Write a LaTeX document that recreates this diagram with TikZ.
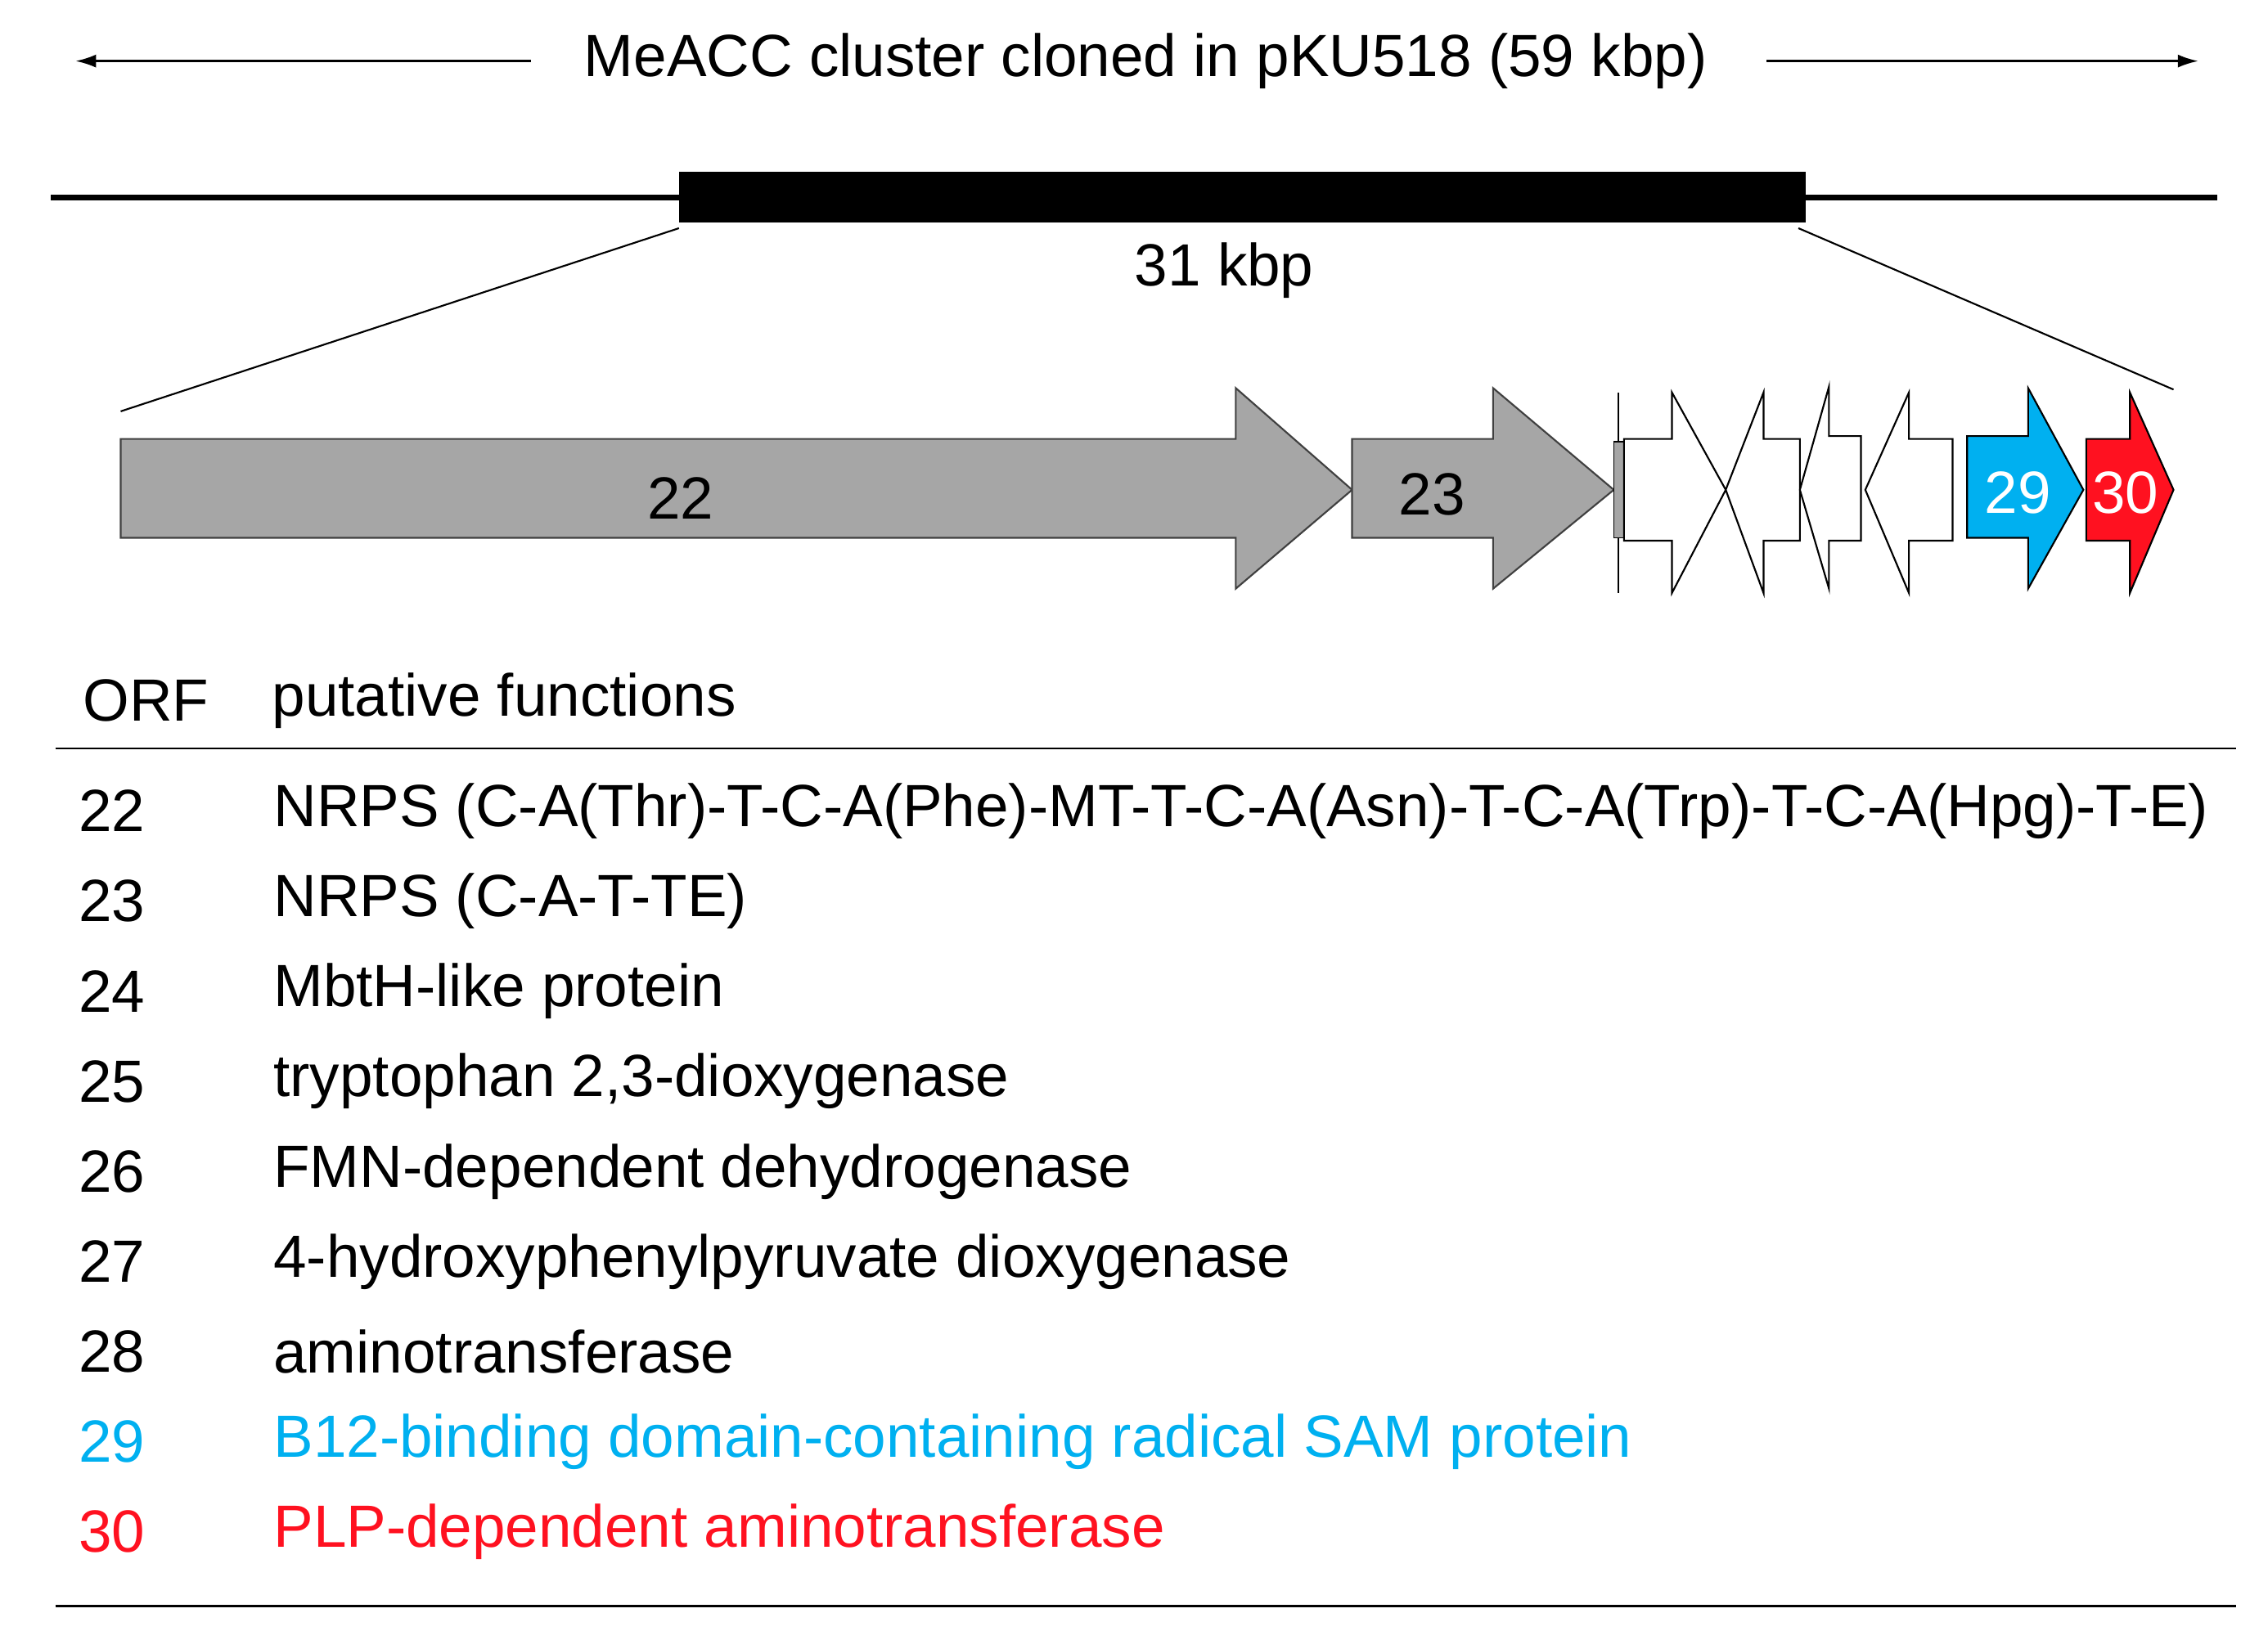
\documentclass[tikz,border=0pt]{standalone}
\usepackage{fontspec}
\setmainfont{Liberation Sans}
\usetikzlibrary{arrows.meta}
\definecolor{cy}{HTML}{00B0F0}
\definecolor{rd}{HTML}{FF1120}
\definecolor{gr}{HTML}{A6A6A6}
\begin{document}
\begin{tikzpicture}[x=1pt,y=-1pt,
  txt/.style={font=\fontsize{41}{48}\selectfont,inner sep=0pt},
  lbl/.style={txt,anchor=west},
  gene/.style={line width=1.2pt,line join=miter}]
\useasboundingbox (0,0) rectangle (1560,1128);
% top
\node[txt] (title) at (788,42) {MeACC cluster cloned in pKU518 (59 kbp)};
\coordinate (l1) at (365,42); \coordinate (l2) at (52,42);
\coordinate (r1) at (1215,42); \coordinate (r2) at (1512,42);
\draw[line width=1.3pt,-{Latex[length=14pt,width=9pt]}] (l1) -- (l2);
\draw[line width=1.3pt,-{Latex[length=14pt,width=9pt]}] (r1) -- (r2);
\coordinate (a) at (35,136); \coordinate (b) at (1525,136);
\draw[line width=4pt] (a) -- (b);
\fill (467,118) rectangle (1242,153);
\node[txt] (kb) at (842,186) {31 kbp};
\coordinate (z1) at (467,157); \coordinate (z2) at (83,283);
\coordinate (z3) at (1237,157); \coordinate (z4) at (1495,268);
\draw[line width=1.2pt] (z1) -- (z2);
\draw[line width=1.2pt] (z3) -- (z4);
% genes
\draw[gene,fill=gr,draw=black!75] (83,302) -- (850,302) -- (850,267) -- (930,337) -- (850,405) -- (850,370) -- (83,370) -- cycle;
\node[txt] (g22) at (468,343) {22};
\draw[gene,fill=gr,draw=black!75] (930,302) -- (1027,302) -- (1027,267) -- (1110,337) -- (1027,405) -- (1027,370) -- (930,370) -- cycle;
\node[txt] (g23) at (985,340) {23};
\draw[line width=1.2pt] (1113,270) -- (1113,408);
\draw[line width=1pt,fill=gr] (1110,304) rectangle (1117,370);
\draw[gene,fill=white] (1117,302) -- (1150,302) -- (1150,270) -- (1187,337) -- (1150,408) -- (1150,372) -- (1117,372) -- cycle;
\draw[gene,fill=white] (1238,302) -- (1213,302) -- (1213,270) -- (1187,337) -- (1213,408) -- (1213,372) -- (1238,372) -- cycle;
\draw[gene,fill=white] (1280,300) -- (1258,300) -- (1258,266) -- (1238,337) -- (1258,405) -- (1258,372) -- (1280,372) -- cycle;
\draw[gene,fill=white] (1343,302) -- (1313,302) -- (1313,270) -- (1283,337) -- (1313,408) -- (1313,372) -- (1343,372) -- cycle;
\draw[gene,fill=cy] (1353,300) -- (1395,300) -- (1395,267) -- (1433,337) -- (1395,405) -- (1395,370) -- (1353,370) -- cycle;
\node[txt,text=white] (g29) at (1388,339) {29};
\draw[gene,fill=rd] (1435,302) -- (1465,302) -- (1465,270) -- (1495,337) -- (1465,408) -- (1465,372) -- (1435,372) -- cycle;
\node[txt,text=white] (g30) at (1462,339) {30};
% table
\node[lbl] (h1) at (57,482) {ORF};
\node[lbl] (h2) at (187,482) {putative functions};
\coordinate (t1) at (38,515); \coordinate (t2) at (1538,515);
\coordinate (t3) at (38,1105); \coordinate (t4) at (1538,1105);
\draw[line width=1.5pt] (t1) -- (t2);
\draw[line width=1.5pt] (t3) -- (t4);
\foreach \n/\t/\c [count=\i from 0] in {
 22/{NRPS (C-A(Thr)-T-C-A(Phe)-MT-T-C-A(Asn)-T-C-A(Trp)-T-C-A(Hpg)-T-E)}/black,
 23/{NRPS (C-A-T-TE)}/black,
 24/{MbtH-like protein}/black,
 25/{tryptophan 2,3-dioxygenase}/black,
 26/{FMN-dependent dehydrogenase}/black,
 27/{4-hydroxyphenylpyruvate dioxygenase}/black,
 28/{aminotransferase}/black,
 29/{B12-binding domain-containing radical SAM protein}/cy,
 30/{PLP-dependent aminotransferase}/rd}{
  \node[lbl,text=\c] (n\n) at (54,558+62*\i) {\n};
  \node[lbl,text=\c] (f\n) at (188,558+62*\i) {\t};
}
\end{tikzpicture}
\end{document}
